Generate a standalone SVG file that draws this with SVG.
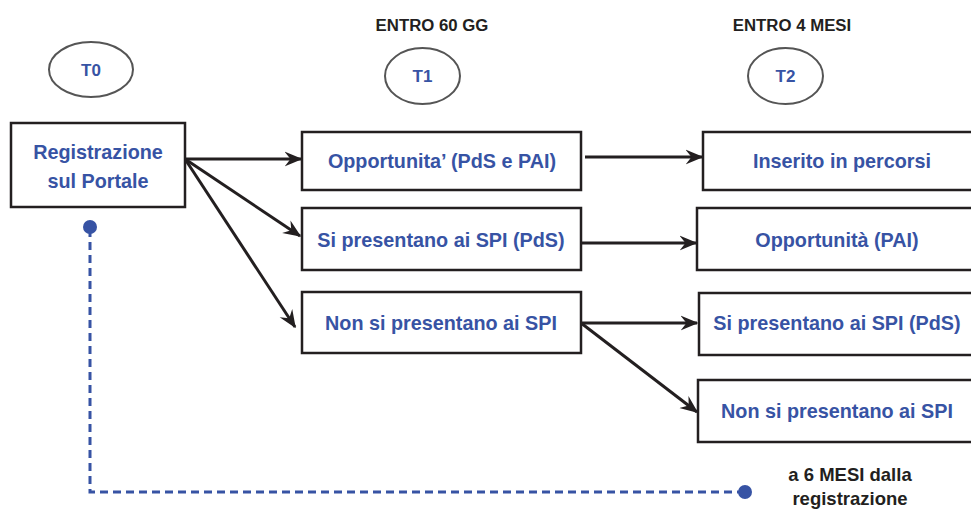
<svg xmlns="http://www.w3.org/2000/svg" width="971" height="510" viewBox="0 0 971 510">
<defs>
<style>
.box{fill:#fff;stroke:#231f20;stroke-width:2.5}
.ell{fill:#fff;stroke:#555;stroke-width:2}
.bt{font-family:"Liberation Sans",Arial,sans-serif;font-weight:bold;font-size:19.8px;fill:#3753a4;text-anchor:middle}
.tt{font-family:"Liberation Sans",Arial,sans-serif;font-weight:bold;font-size:17px;fill:#3753a4;text-anchor:middle}
.hd{font-family:"Liberation Sans",Arial,sans-serif;font-weight:bold;font-size:16.8px;fill:#231f20;text-anchor:middle}
.arr{fill:none;stroke:#231f20;stroke-width:3;marker-end:url(#ah)}
.dash{fill:none;stroke:#3753a4;stroke-width:3;stroke-dasharray:8 5}
</style>
<marker id="ah" viewBox="0 0 12 10" refX="11" refY="5" markerWidth="6" markerHeight="6" markerUnits="strokeWidth" orient="auto">
<path d="M0,0 L12,5 L0,10 L4,5 Z" fill="#231f20"/>
</marker>
</defs>
<rect width="971" height="510" fill="#fff"/>

<g id="headers">
<text class="hd" x="432" y="31">ENTRO 60 GG</text>
<text class="hd" x="792" y="31">ENTRO 4 MESI</text>
</g>

<g id="t0"><ellipse class="ell" cx="91" cy="69.5" rx="42" ry="27.5"/><text class="tt" x="91" y="76">T0</text></g>
<g id="t1"><ellipse class="ell" cx="422.5" cy="76" rx="37.5" ry="28"/><text class="tt" x="422.5" y="82">T1</text></g>
<g id="t2"><ellipse class="ell" cx="785.5" cy="76" rx="37.5" ry="28"/><text class="tt" x="785.5" y="82">T2</text></g>

<g id="connectors">
<line class="arr" x1="185" y1="159" x2="301" y2="159"/>
<line class="arr" x1="185" y1="159" x2="300" y2="236"/>
<line class="arr" x1="185" y1="159" x2="295" y2="327"/>
<line class="arr" x1="585" y1="157" x2="702" y2="157"/>
<line class="arr" x1="581" y1="243" x2="696" y2="243"/>
<line class="arr" x1="581" y1="323" x2="697" y2="323"/>
<line class="arr" x1="581" y1="323" x2="697" y2="412"/>
<path class="dash" d="M90,229 V492 H743"/>
<circle cx="90" cy="227" r="7" fill="#3753a4"/>
<circle cx="745" cy="492" r="7" fill="#3753a4"/>
</g>

<g id="registrazione">
<rect class="box" x="11" y="123" width="174" height="84"/>
<text class="bt" x="98" y="159">Registrazione</text>
<text class="bt" x="98" y="188">sul Portale</text>
</g>

<g id="opportunita-pds-pai"><rect class="box" x="302" y="132" width="279" height="58"/><text class="bt" x="442" y="168">Opportunita’ (PdS e PAI)</text></g>
<g id="si-presentano-1"><rect class="box" x="302" y="208" width="279" height="62"/><text class="bt" x="441" y="247">Si presentano ai SPI (PdS)</text></g>
<g id="non-si-presentano-1"><rect class="box" x="302" y="292" width="279" height="61"/><text class="bt" x="441" y="330">Non si presentano ai SPI</text></g>

<g id="inserito"><rect class="box" x="703" y="132" width="280" height="58"/><text class="bt" x="842" y="168">Inserito in percorsi</text></g>
<g id="opportunita-pai"><rect class="box" x="697" y="208" width="286" height="62"/><text class="bt" x="837" y="247">Opportunità (PAI)</text></g>
<g id="si-presentano-2"><rect class="box" x="699" y="293" width="284" height="62"/><text class="bt" x="837" y="330">Si presentano ai SPI (PdS)</text></g>
<g id="non-si-presentano-2"><rect class="box" x="698" y="380" width="285" height="62"/><text class="bt" x="837" y="418">Non si presentano ai SPI</text></g>

<g id="note">
<text class="hd" x="850" y="481" style="font-size:18.5px">a 6 MESI dalla</text>
<text class="hd" x="850" y="505" style="font-size:18.5px">registrazione</text>
</g>
</svg>
